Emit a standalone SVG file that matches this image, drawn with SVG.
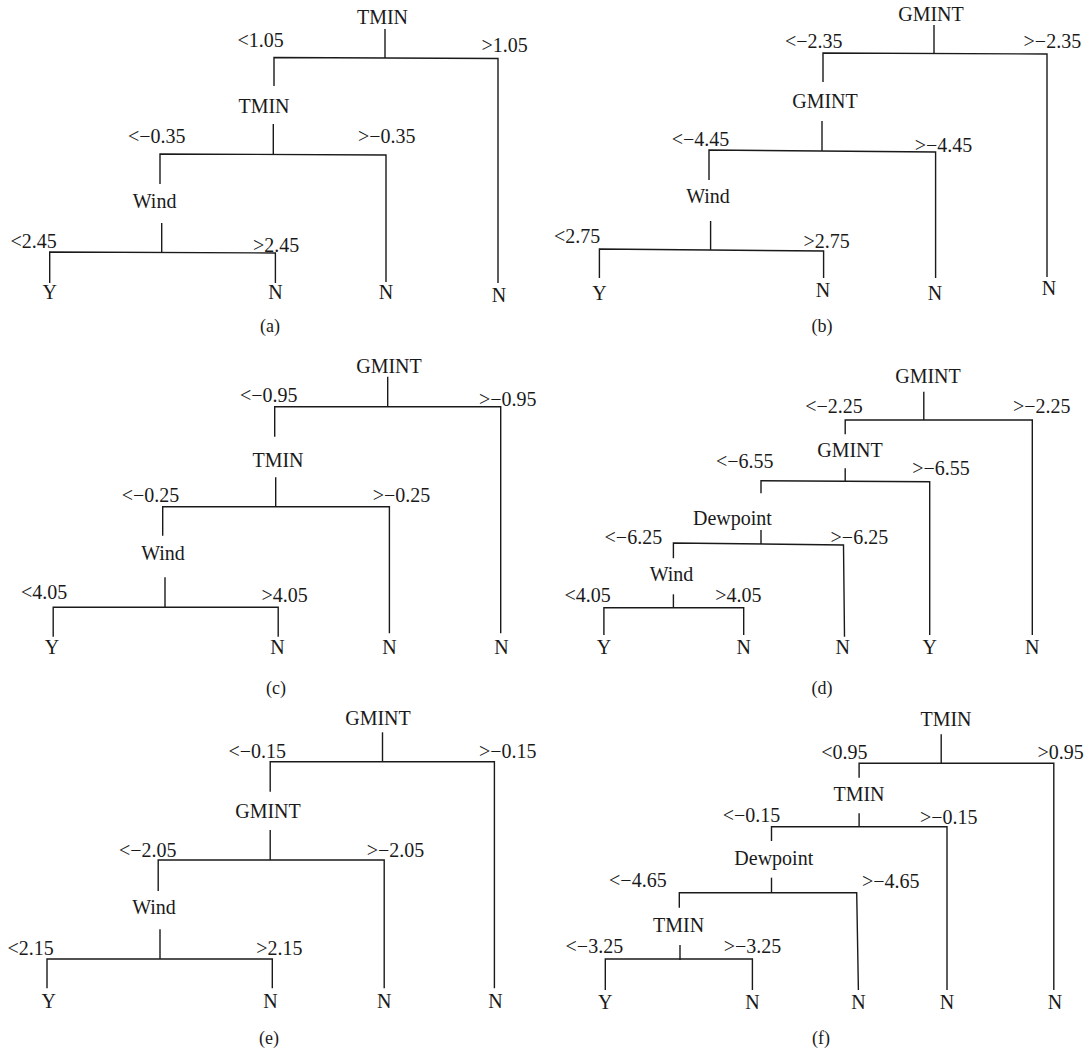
<svg xmlns="http://www.w3.org/2000/svg" width="1087" height="1051" viewBox="0 0 1087 1051">
<style>
text{font-family:"Liberation Serif","Times New Roman",serif;font-size:20px;fill:#1a1a1a}
.n{text-anchor:middle}
.cap{text-anchor:middle;font-size:18px}
.c path,.c polyline{fill:none;stroke:#1a1a1a;stroke-width:1.4}
</style>
<rect width="1087" height="1051" fill="#fff"/>
<g class="c" id="connectors">
<!-- a -->
<path d="M385 29V58"/><polyline points="274,86 274,57.5 498,58.5 498,283"/>
<path d="M273.3 124V154.5"/><polyline points="160,184 160,154 386,155 386,282"/>
<path d="M161.7 223V252.5"/><polyline points="49.7,283 49.7,252 275.4,253 275.4,283"/>
<!-- b -->
<path d="M934 25V53.5"/><polyline points="823,82 823,53 1047,54 1047,277"/>
<path d="M822 121V151"/><polyline points="709,180 709,150 935.6,152 935.6,278"/>
<path d="M710.6 221V250"/><polyline points="599.4,278 599.4,249 823.6,251 823.6,278"/>
<!-- c -->
<path d="M387.7 376.7V406.7"/><polyline points="274.7,436.7 274.7,406.7 500.7,406.7 500.7,633.3"/>
<path d="M275.7 477.3V506.7"/><polyline points="162.7,535.7 162.7,506.7 389.4,506.7 389.4,633.3"/>
<path d="M165 577.3V607.3"/><polyline points="53.2,636.7 53.2,607.3 278.2,607.3 278.2,636.7"/>
<!-- d -->
<path d="M923.8 391.7V420"/><polyline points="845.2,434.3 845.2,420 1032.3,420 1032.3,635"/>
<path d="M845.2 468.3V481.2"/><polyline points="761,493.3 761,480.7 929.7,481.7 929.7,635"/>
<path d="M761 530V544"/><polyline points="673.4,558.3 673.4,543 843.5,545 844.5,636.7"/>
<path d="M673.4 594.3V607.7"/><polyline points="603.9,635 603.9,607.7 743.7,607.7 743.7,635"/>
<!-- e -->
<path d="M382.5 732.3V761.7"/><polyline points="270.2,791.7 270.2,761.7 494.4,761.7 494.4,988.3"/>
<path d="M270.2 830V860"/><polyline points="158.2,891 158.2,860 384.2,860 384.2,988.3"/>
<path d="M160 929.3V959"/><polyline points="47,988.3 47,959 272.3,959 272.3,988.3"/>
<!-- f -->
<path d="M941.2 734.3V763.3"/><polyline points="859.1,777.7 859.1,763.3 1053.8,763.3 1053.8,990"/>
<path d="M859.1 813.3V826.7"/><polyline points="771.5,841 771.5,826.7 947,826.7 947,990"/>
<path d="M771.5 877.7V892.7"/><polyline points="679.3,907.7 679.3,892.7 856.7,892.7 858.4,990"/>
<path d="M680 945V960"/><polyline points="605.3,990 605.3,959 752.4,959 752.4,990"/>
</g>
<g id="labels">
<text x="237.5" y="46.7">&lt;1.05</text><text x="481.6" y="51.7">&gt;1.05</text>
<text x="128" y="143">&lt;−0.35</text><text x="358" y="143">&gt;−0.35</text>
<text x="10.4" y="248">&lt;2.45</text><text x="253" y="251.7">&gt;2.45</text>
<text x="785" y="47.7">&lt;−2.35</text><text x="1023.6" y="47.7">&gt;−2.35</text>
<text x="671.7" y="146">&lt;−4.45</text><text x="914.7" y="151.7">&gt;−4.45</text>
<text x="554" y="243">&lt;2.75</text><text x="803.5" y="248">&gt;2.75</text>
<text x="240" y="402.3">&lt;−0.95</text><text x="479" y="405.7">&gt;−0.95</text>
<text x="121.7" y="502.3">&lt;−0.25</text><text x="372.7" y="502.3">&gt;−0.25</text>
<text x="20.9" y="599">&lt;4.05</text><text x="261.5" y="601.7">&gt;4.05</text>
<text x="805.2" y="413.3">&lt;−2.25</text><text x="1013" y="413.3">&gt;−2.25</text>
<text x="715.9" y="468.3">&lt;−6.55</text><text x="912.3" y="475">&gt;−6.55</text>
<text x="604.6" y="544.3">&lt;−6.25</text><text x="830.6" y="544.3">&gt;−6.25</text>
<text x="564.6" y="601.7">&lt;4.05</text><text x="715.2" y="601.7">&gt;4.05</text>
<text x="228.4" y="758.3">&lt;−0.15</text><text x="479" y="758.3">&gt;−0.15</text>
<text x="119" y="856.7">&lt;−2.05</text><text x="366.8" y="856.7">&gt;−2.05</text>
<text x="7.6" y="955">&lt;2.15</text><text x="256.3" y="955">&gt;2.15</text>
<text x="821.2" y="759">&lt;0.95</text><text x="1037.5" y="759">&gt;0.95</text>
<text x="722.8" y="822.3">&lt;−0.15</text><text x="920" y="824">&gt;−0.15</text>
<text x="609.1" y="886.7">&lt;−4.65</text><text x="861.9" y="888.3">&gt;−4.65</text>
<text x="565.6" y="953.3">&lt;−3.25</text><text x="723.8" y="953.3">&gt;−3.25</text>
</g>
<!-- panel a -->
<g id="a_root"><text class="n" x="382.5" y="24">TMIN</text></g>
<g id="a_tmin"><text class="n" x="264" y="113">TMIN</text></g>
<g id="a_wind"><text class="n" x="154.6" y="208">Wind</text></g>
<g id="a_leaf1"><text class="n" x="49.7" y="299">Y</text></g>
<g id="a_leaf2"><text class="n" x="275.4" y="299">N</text></g>
<g id="a_leaf3"><text class="n" x="386" y="299">N</text></g>
<g id="a_leaf4"><text class="n" x="499" y="301.7">N</text></g>
<g id="a_cap"><text class="cap" x="270" y="332">(a)</text></g>
<!-- panel b -->
<g id="b_root"><text class="n" x="931" y="20.7">GMINT</text></g>
<g id="b_gmint"><text class="n" x="825" y="108">GMINT</text></g>
<g id="b_wind"><text class="n" x="708" y="203">Wind</text></g>
<g id="b_leaf1"><text class="n" x="599.4" y="300">Y</text></g>
<g id="b_leaf2"><text class="n" x="823" y="296.7">N</text></g>
<g id="b_leaf3"><text class="n" x="935" y="300">N</text></g>
<g id="b_leaf4"><text class="n" x="1049" y="295">N</text></g>
<g id="b_cap"><text class="cap" x="822" y="332">(b)</text></g>
<!-- panel c -->
<g id="c_root"><text class="n" x="389" y="373.3">GMINT</text></g>
<g id="c_tmin"><text class="n" x="278" y="467.3">TMIN</text></g>
<g id="c_wind"><text class="n" x="163" y="560">Wind</text></g>
<g id="c_leaf1"><text class="n" x="52" y="654.3">Y</text></g>
<g id="c_leaf2"><text class="n" x="277.5" y="654.3">N</text></g>
<g id="c_leaf3"><text class="n" x="389.4" y="654.3">N</text></g>
<g id="c_leaf4"><text class="n" x="501.4" y="654.3">N</text></g>
<g id="c_cap"><text class="cap" x="276" y="694">(c)</text></g>
<!-- panel d -->
<g id="d_root"><text class="n" x="928" y="383.3">GMINT</text></g>
<g id="d_gmint"><text class="n" x="850" y="457.3">GMINT</text></g>
<g id="d_dew"><text class="n" x="732.4" y="525">Dewpoint</text></g>
<g id="d_wind"><text class="n" x="671.5" y="581">Wind</text></g>
<g id="d_leaf1"><text class="n" x="603.9" y="654.3">Y</text></g>
<g id="d_leaf2"><text class="n" x="743.7" y="654.3">N</text></g>
<g id="d_leaf3"><text class="n" x="842.8" y="654.3">N</text></g>
<g id="d_leaf4"><text class="n" x="929.7" y="654.3">Y</text></g>
<g id="d_leaf5"><text class="n" x="1032.3" y="654.3">N</text></g>
<g id="d_cap"><text class="cap" x="822" y="694">(d)</text></g>
<!-- panel e -->
<g id="e_root"><text class="n" x="378" y="725">GMINT</text></g>
<g id="e_gmint"><text class="n" x="268" y="818.3">GMINT</text></g>
<g id="e_wind"><text class="n" x="154" y="914.3">Wind</text></g>
<g id="e_leaf1"><text class="n" x="48.7" y="1008.3">Y</text></g>
<g id="e_leaf2"><text class="n" x="270.5" y="1008.3">N</text></g>
<g id="e_leaf3"><text class="n" x="384.2" y="1008.3">N</text></g>
<g id="e_leaf4"><text class="n" x="495.5" y="1008.3">N</text></g>
<g id="e_cap"><text class="cap" x="269" y="1044">(e)</text></g>
<!-- panel f -->
<g id="f_root"><text class="n" x="946" y="725.7">TMIN</text></g>
<g id="f_tmin"><text class="n" x="859" y="801">TMIN</text></g>
<g id="f_dew"><text class="n" x="773.8" y="865">Dewpoint</text></g>
<g id="f_tmin2"><text class="n" x="678.6" y="932.3">TMIN</text></g>
<g id="f_leaf1"><text class="n" x="605.3" y="1009">Y</text></g>
<g id="f_leaf2"><text class="n" x="752.4" y="1009">N</text></g>
<g id="f_leaf3"><text class="n" x="858.4" y="1009">N</text></g>
<g id="f_leaf4"><text class="n" x="947" y="1009">N</text></g>
<g id="f_leaf5"><text class="n" x="1054.9" y="1009">N</text></g>
<g id="f_cap"><text class="cap" x="821" y="1044">(f)</text></g>
</svg>
